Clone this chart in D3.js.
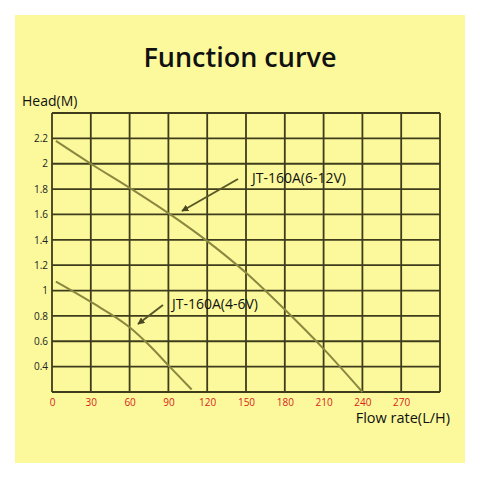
<!DOCTYPE html>
<html>
<head>
<meta charset="utf-8">
<script src="https://cdn.jsdelivr.net/npm/d3@7"></script>
<style>
  body { margin: 0; background: #fff; }
  text { font-family: "Open Sans", "Noto Sans", sans-serif; }
</style>
</head>
<body>
<div id="chart"></div>
<script>
// Data
const xTicks = [0, 30, 60, 90, 120, 150, 180, 210, 240, 270];
const yTicks = [0.4, 0.6, 0.8, 1, 1.2, 1.4, 1.6, 1.8, 2, 2.2];

const flowHigh = [3, 30, 60, 90, 120, 150, 180, 210, 240];
const headHigh = [2.18, 2.0, 1.81, 1.61, 1.39, 1.14, 0.85, 0.54, 0.2];

const flowLow = [3, 30, 60, 75, 90, 108];
const headLow = [1.07, 0.91, 0.71, 0.57, 0.41, 0.22];

const width = 480, height = 480;
const margin = { left: 52, right: 40, top: 113, bottom: 88 };

const svg = d3.select("#chart").append("svg")
    .attr("width", width)
    .attr("height", height);

// yellow panel
svg.append("rect")
    .attr("x", 15).attr("y", 15)
    .attr("width", 450).attr("height", 448)
    .attr("fill", "#fbf99c");

svg.append("text")
    .attr("x", 240).attr("y", 67)
    .attr("text-anchor", "middle")
    .style("font-size", "27px")
    .style("font-weight", 600)
    .attr("fill", "#111")
    .text("Function curve");

const x = d3.scaleLinear().domain([0, 300]).range([margin.left, width - margin.right]);
const y = d3.scaleLinear().domain([0.2, 2.4]).range([height - margin.bottom, margin.top]);

const gridColor = "#3f3c1c";

// grid
const g = svg.append("g");
g.selectAll(".vg")
    .data(d3.range(0, 301, 30))
    .enter().append("line")
    .attr("x1", d => x(d)).attr("x2", d => x(d))
    .attr("y1", y(0.2)).attr("y2", y(2.4))
    .attr("stroke", gridColor)
    .attr("stroke-width", 1.8);

g.selectAll(".hg")
    .data(d3.range(0, 12).map(i => 0.2 + i * 0.2))
    .enter().append("line")
    .attr("x1", x(0)).attr("x2", x(300))
    .attr("y1", d => y(d)).attr("y2", d => y(d))
    .attr("stroke", gridColor)
    .attr("stroke-width", 1.8);

// axes labels
svg.append("g")
    .attr("transform", `translate(0,${y(0.2) + 5})`)
    .call(d3.axisBottom(x).tickValues(xTicks).tickSize(0).tickPadding(2))
    .call(a => a.select(".domain").remove())
    .call(a => a.selectAll("text")
        .attr("fill", "#d8231a")
        .style("font-size", "10px")
        .style("font-family", "'Open Sans', sans-serif"));

svg.append("g")
    .attr("transform", `translate(${x(0) - 4},0)`)
    .call(d3.axisLeft(y).tickValues(yTicks).tickSize(0).tickPadding(0)
        .tickFormat(d => d3.format("~g")(d)))
    .call(a => a.select(".domain").remove())
    .call(a => a.selectAll("text")
        .attr("fill", "#222")
        .style("font-size", "10px")
        .style("font-family", "'Open Sans', sans-serif"));

svg.append("text")
    .attr("x", 22).attr("y", 106)
    .style("font-size", "14px")
    .attr("fill", "#111")
    .text("Head(M)");

svg.append("text")
    .attr("x", 450).attr("y", 423)
    .attr("text-anchor", "end")
    .style("font-size", "14.5px")
    .attr("fill", "#111")
    .text("Flow rate(L/H)");

// curves
const line = d3.line()
    .x(d => x(d[0]))
    .y(d => y(d[1]))
    .curve(d3.curveMonotoneX);

const curveColor = "#8a8740";
svg.append("path")
    .datum(d3.zip(flowHigh, headHigh))
    .attr("d", line)
    .attr("fill", "none")
    .attr("stroke", curveColor)
    .attr("stroke-width", 2);

svg.append("path")
    .datum(d3.zip(flowLow, headLow))
    .attr("d", line)
    .attr("fill", "none")
    .attr("stroke", curveColor)
    .attr("stroke-width", 2);

// annotations
svg.append("defs").append("marker")
    .attr("id", "arrow")
    .attr("viewBox", "0 0 10 10")
    .attr("refX", 9).attr("refY", 5)
    .attr("markerWidth", 7).attr("markerHeight", 7)
    .attr("markerUnits", "userSpaceOnUse")
    .attr("orient", "auto")
    .append("path")
    .attr("d", "M0,0 L10,5 L0,10 z")
    .attr("fill", "#4a4822");

const notes = [
    { label: "JT-160A(6-12V)", tx: 252, ty: 183, x1: 238, y1: 179, x2: 182, y2: 211 },
    { label: "JT-160A(4-6V)", tx: 172, ty: 309, x1: 163, y1: 305, x2: 138, y2: 324 }
];

notes.forEach(n => {
    svg.append("line")
        .attr("x1", n.x1).attr("y1", n.y1)
        .attr("x2", n.x2).attr("y2", n.y2)
        .attr("stroke", "#5a5828")
        .attr("stroke-width", 2)
        .attr("marker-end", "url(#arrow)");
    svg.append("text")
        .attr("x", n.tx).attr("y", n.ty)
        .style("font-size", "14px")
        .attr("fill", "#111")
        .text(n.label);
});
</script>
</body>
</html>
